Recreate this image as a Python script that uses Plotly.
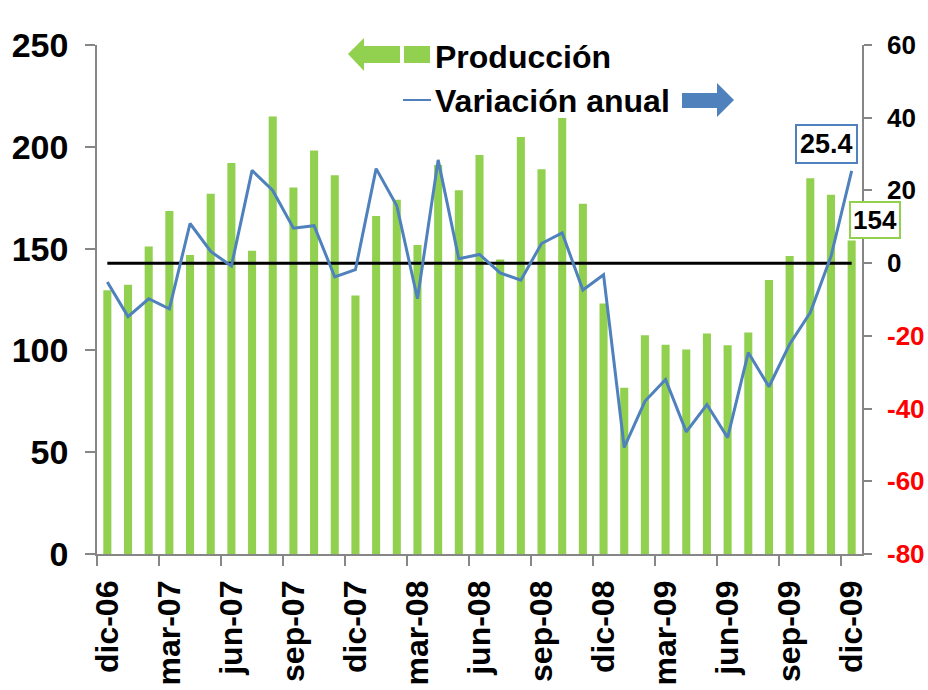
import plotly.graph_objects as go

# meses dic-06 .. dic-09
meses = ["dic-06", "ene-07", "feb-07", "mar-07", "abr-07", "may-07", "jun-07", "jul-07", "ago-07",
         "sep-07", "oct-07", "nov-07", "dic-07", "ene-08", "feb-08", "mar-08", "abr-08", "may-08",
         "jun-08", "jul-08", "ago-08", "sep-08", "oct-08", "nov-08", "dic-08", "ene-09", "feb-09",
         "mar-09", "abr-09", "may-09", "jun-09", "jul-09", "ago-09", "sep-09", "oct-09", "nov-09",
         "dic-09"]

produccion = [129.6, 132.2, 151, 168.5, 146.9, 177, 192, 148.9, 214.9, 180, 198.2, 186, 127,
              166, 174, 151.8, 191, 178.6, 196, 144.6, 204.8, 189, 214.2, 172, 123, 81.7,
              107.4, 102.8, 100.5, 108.3, 102.5, 108.8, 134.6, 146.4, 184.6, 176.5, 154]

variacion = [-5.2, -14.7, -9.8, -12.6, 10.9, 3.2, -0.8, 25.5, 20, 9.6, 10.3, -3.8, -1.8, 26,
             15.8, -9.8, 28.4, 1.2, 2.4, -2.7, -4.7, 5.4, 8.3, -7.4, -3.2, -50.7, -38, -32,
             -46.4, -38.9, -48, -24.6, -34, -22.3, -13.6, 1.9, 25.4]

cero = [0] * len(meses)

ticks_der = [60, 40, 20, 0, -20, -40, -60, -80]

VERDE = "#92D050"
AZUL = "#4F81BD"
GRIS = "#868686"
FUENTE = "Liberation Sans, Arial, sans-serif"

# plot area in page pixels (body margin removed below, so no offset)
L, R, T, B = 97, 862, 45, 554
W, H = 928, 690


def px(x):
    return (x - L) / (R - L)


def py(y):
    return (B - y) / (B - T)


fig = go.Figure()
fig.add_trace(go.Bar(x=meses, y=produccion, marker_color=VERDE, marker_line_width=0,
                     name="Producción", yaxis="y"))
fig.add_trace(go.Scatter(x=meses, y=cero, mode="lines", line=dict(color="black", width=3),
                         yaxis="y2", showlegend=False))
fig.add_trace(go.Scatter(x=meses, y=variacion, mode="lines", line=dict(color=AZUL, width=3),
                         name="Variación anual", yaxis="y2"))

fig.update_layout(
    width=W, height=H,
    margin=dict(l=L, r=W - R, t=T, b=H - B),
    plot_bgcolor="white", paper_bgcolor="white",
    showlegend=False,
    bargap=0.61,
    font=dict(family=FUENTE, color="black"),
    xaxis=dict(type="category", range=[-0.5, len(meses) - 0.5], tickmode="linear", tick0=0,
               dtick=3, tickson="boundaries", automargin=False,
               tickangle=-90, ticks="outside", ticklen=10, tickcolor=GRIS, tickwidth=1.5,
               showline=True, linecolor=GRIS, linewidth=1.5, showgrid=False,
               tickfont=dict(size=32, weight="bold", family=FUENTE), ticklabelstandoff=12),
    yaxis=dict(range=[0, 250], dtick=50, ticks="outside", ticklen=10, tickcolor=GRIS,
               tickwidth=1.5, showline=True, linecolor=GRIS, linewidth=1.5, showgrid=False,
               zeroline=False, automargin=False,
               tickfont=dict(size=34, weight="bold", family=FUENTE), ticklabelstandoff=10),
    yaxis2=dict(range=[-80, 60], overlaying="y", side="right", tickmode="array",
                tickvals=ticks_der, showticklabels=False, ticks="outside", ticklen=8,
                tickcolor=GRIS, tickwidth=1.5, showline=True, linecolor=GRIS, linewidth=1.5,
                showgrid=False, zeroline=False, automargin=False),
)

# right axis labels, negatives in red
for v in ticks_der:
    fig.add_annotation(x=px(885), y=v, xref="paper", yref="y2", text=str(v), showarrow=False,
                       xanchor="left", yanchor="middle",
                       font=dict(size=26, weight="bold", family=FUENTE,
                                 color="red" if v < 0 else "black"))

# data labels
fig.add_annotation(x=meses[-1], y=variacion[-1], xref="x", yref="y2",
                   text=f"{variacion[-1]:.1f}", showarrow=False, xshift=-25, yshift=27,
                   font=dict(size=27, weight="bold", family=FUENTE), bgcolor="white",
                   bordercolor=AZUL, borderwidth=2, borderpad=3)
fig.add_annotation(x=meses[-1], y=produccion[-1], xref="x", yref="y",
                   text=f"{produccion[-1]:.0f}", showarrow=False, xshift=23, yshift=20,
                   font=dict(size=26, weight="bold", family=FUENTE), bgcolor="white",
                   bordercolor=VERDE, borderwidth=2, borderpad=2)

# custom legend with arrows
flecha_izq = [(348, 54), (364, 38), (364, 46), (400, 46), (400, 63), (364, 63), (364, 71)]
flecha_der = [(682, 93), (717, 93), (717, 83), (734, 100), (717, 117), (717, 108), (682, 108)]


def camino(pts):
    return "M " + " L ".join(f"{px(x):.5f},{py(y):.5f}" for x, y in pts) + " Z"


fig.add_shape(type="path", path=camino(flecha_izq), xref="paper", yref="paper",
              fillcolor=VERDE, line_width=0)
fig.add_shape(type="path", path=camino(flecha_der), xref="paper", yref="paper",
              fillcolor=AZUL, line_width=0)
fig.add_shape(type="rect", x0=px(404), x1=px(430), y0=py(46), y1=py(63), xref="paper",
              yref="paper", fillcolor=VERDE, line_width=0)
fig.add_shape(type="line", x0=px(403), x1=px(431), y0=py(100), y1=py(100), xref="paper",
              yref="paper", line=dict(color=AZUL, width=2))
fig.add_annotation(x=px(433), y=py(57), xref="paper", yref="paper", text="Producción",
                   showarrow=False, xanchor="left", yanchor="middle",
                   font=dict(size=32, weight="bold", family=FUENTE))
fig.add_annotation(x=px(433), y=py(101), xref="paper", yref="paper", text="Variación anual",
                   showarrow=False, xanchor="left", yanchor="middle",
                   font=dict(size=32, weight="bold", family=FUENTE))

fig.write_html("out.html", config={"displayModeBar": False},
               post_script="document.body.style.margin='0';")
